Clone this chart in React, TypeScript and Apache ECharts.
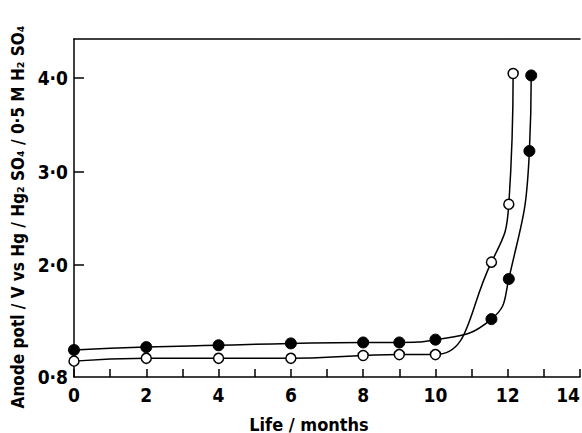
import React, { useEffect, useRef } from "react";
import * as echarts from "echarts";

const openX = [0, 2, 4, 6, 8, 9, 10, 11.55, 12.03, 12.15];
const openY = [0.97, 1.0, 1.0, 1.0, 1.03, 1.04, 1.04, 2.03, 2.65, 4.05];
const filledX = [0, 2, 4, 6, 8, 9, 10, 11.55, 12.03, 12.6, 12.65];
const filledY = [1.09, 1.12, 1.14, 1.16, 1.17, 1.17, 1.2, 1.42, 1.85, 3.22, 4.03];
const yLabelValues = [0.8, 2, 3, 4];
const yTickValues = [2, 3, 4];
const xTitle = "Life / months";
const yTitle = "Anode potl / V vs Hg / Hg\u2082 SO\u2084 / 0\u00b75 M H\u2082 SO\u2084";

const FONT = "'DejaVu Sans Condensed', 'DejaVu Sans', sans-serif";

export default function App() {
  const ref = useRef<HTMLDivElement>(null);
  useEffect(() => {
    if (!ref.current) return;
    const chart = echarts.init(ref.current, undefined, { renderer: "svg" });
    const open = openX.map((x, i) => [x, openY[i]]);
    const filled = filledX.map((x, i) => [x, filledY[i]]);
    chart.setOption({
      animation: false,
      backgroundColor: "#fff",
      grid: { left: 74, right: 2, top: 39, bottom: 56, containLabel: false, outerBoundsMode: "none" },
      graphic: [
        {
          type: "text",
          x: 309,
          y: 424,
          style: {
            text: xTitle,
            fontFamily: FONT,
            fontWeight: "bold",
            fontSize: 18,
            fill: "#000",
            align: "center",
            verticalAlign: "middle",
          },
        },
        {
          type: "text",
          x: 18,
          y: 217,
          rotation: Math.PI / 2,
          style: {
            text: yTitle,
            fontFamily: FONT,
            fontWeight: "bold",
            fontSize: 17,
            fill: "#000",
            align: "center",
            verticalAlign: "middle",
          },
        },
      ],
      xAxis: [
        {
          type: "value",
          min: 0,
          max: 14,
          interval: 1,
          axisLine: { show: true, lineStyle: { color: "#000", width: 1.5 } },
          axisTick: { show: true, inside: true, length: 8, lineStyle: { color: "#000", width: 1.5 } },
          axisLabel: {
            formatter: (v: number) => (v % 2 === 0 ? String(v) : ""),
            fontFamily: FONT,
            fontWeight: "bold",
            fontSize: 19,
            color: "#000",
            margin: 8,
            showMaxLabel: true,
            alignMaxLabel: "right",
          },
          splitLine: { show: false },
        },
        {
          type: "value",
          position: "top",
          min: 0,
          max: 14,
          axisLine: { show: true, lineStyle: { color: "#000", width: 1.5 } },
          axisTick: { show: false },
          axisLabel: { show: false },
          splitLine: { show: false },
        },
      ],
      yAxis: {
        type: "value",
        min: 0.8,
        max: 4.42,
        axisLine: { show: true, lineStyle: { color: "#000", width: 1.5 } },
        axisTick: {
          show: true,
          inside: true,
          length: 10,
          customValues: yTickValues,
          lineStyle: { color: "#000", width: 1.5 },
        },
        axisLabel: {
          customValues: yLabelValues,
          formatter: (v: number) => v.toFixed(1).replace(".", "\u00b7"),
          fontFamily: FONT,
          fontWeight: "bold",
          fontSize: 19,
          color: "#000",
          margin: 6,
        },
        splitLine: { show: false },
      },
      series: [
        {
          type: "line",
          data: filled,
          smooth: 0.5,
          clip: false,
          symbol: "circle",
          symbolSize: 11,
          itemStyle: { color: "#000", borderColor: "#000", borderWidth: 1 },
          lineStyle: { color: "#000", width: 1.5 },
          z: 3,
        },
        {
          type: "line",
          data: open,
          smooth: 0.5,
          clip: false,
          symbol: "circle",
          symbolSize: 10,
          showAllSymbol: true,
          itemStyle: { color: "#fff", borderColor: "#000", borderWidth: 1.5 },
          lineStyle: { color: "#000", width: 1.5 },
          z: 4,
        },
      ],
    });
    return () => chart.dispose();
  }, []);
  return <div ref={ref} style={{ width: 582, height: 433, position: "absolute", left: 0, top: 0 }} />;
}
